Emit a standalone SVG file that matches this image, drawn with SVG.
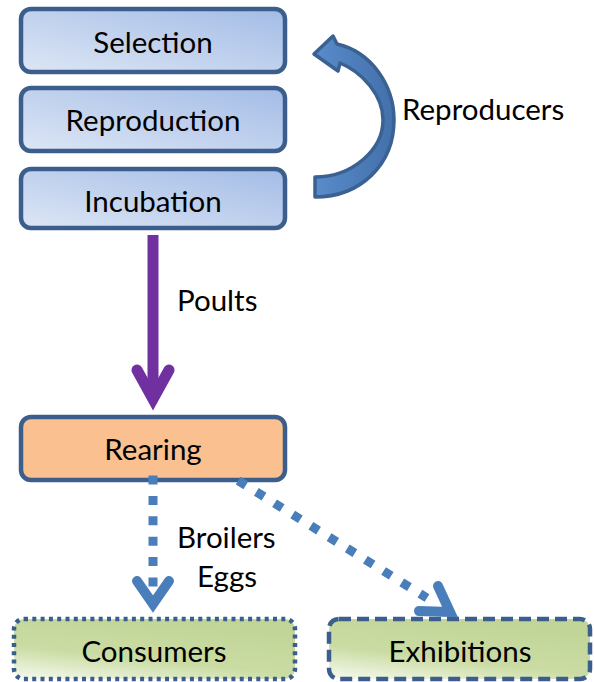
<svg xmlns="http://www.w3.org/2000/svg" width="594" height="682" viewBox="0 0 594 682">
  <defs>
    <linearGradient id="gBlue" x1="0" y1="1" x2="1" y2="0">
      <stop offset="0" stop-color="#dde6f5"/>
      <stop offset="1" stop-color="#a3bce6"/>
    </linearGradient>
    <linearGradient id="gGreen" x1="0" y1="1" x2="0.5" y2="0">
      <stop offset="0" stop-color="#f7faf0"/>
      <stop offset="0.45" stop-color="#cadca3"/>
      <stop offset="1" stop-color="#c2d598"/>
    </linearGradient>
    <linearGradient id="gCurve" x1="0" y1="0" x2="1" y2="0">
      <stop offset="0" stop-color="#5a8ccb"/>
      <stop offset="1" stop-color="#4270aa"/>
    </linearGradient>
  </defs>
  <style>
    text { font-family: Lato, "Liberation Sans", sans-serif; font-size: 29.5px; fill: #000; }
    .c { text-anchor: middle; }
    .box { stroke: #3b5e8c; stroke-width: 4.5; }
    .stage { fill: url(#gBlue); }
    .sink { fill: url(#gGreen); }
    .dotline { fill: none; stroke: #4a7ebb; stroke-width: 9; stroke-linecap: butt; }
    .head { fill: none; stroke-linecap: round; stroke-linejoin: miter; }
  </style>

  <!-- breeding stages -->
  <g id="selection">
    <rect class="box stage" x="21" y="9" width="264" height="63" rx="10"/>
    <text class="c" x="153" y="53">Selection</text>
  </g>
  <g id="reproduction">
    <rect class="box stage" x="21" y="88" width="264" height="63" rx="10"/>
    <text class="c" x="153" y="131">Reproduction</text>
  </g>
  <g id="incubation">
    <rect class="box stage" x="21" y="169" width="264" height="59" rx="10"/>
    <text class="c" x="153" y="212">Incubation</text>
  </g>
  <g id="rearing">
    <rect class="box" fill="#fac090" x="21" y="417" width="264" height="63" rx="10"/>
    <text class="c" x="153" y="460">Rearing</text>
  </g>

  <!-- outlets -->
  <g id="consumers">
    <rect class="box sink" x="14" y="619" width="281" height="60" rx="10" stroke-dasharray="4 4.3"/>
    <text class="c" x="154" y="662">Consumers</text>
  </g>
  <g id="exhibitions">
    <rect class="box sink" x="329" y="619" width="261" height="60" rx="10" stroke-dasharray="12 6"/>
    <text class="c" x="460" y="662">Exhibitions</text>
  </g>

  <g id="connectors">
    <!-- reproducers loop back to selection -->
    <path d="M315,197 C360,197 394,165 394,120 C394,86 372,52 337,44 L333,36 L314,54 L338,71 L340,63 C362,72 383,95 383,120 C383,150 352,177 315,177 Z"
          fill="url(#gCurve)" stroke="#3a6191" stroke-width="3.5" stroke-linejoin="round"/>
    <text x="402" y="120">Reproducers</text>

    <!-- poults: incubation to rearing -->
    <path d="M153,235 V396" stroke="#7030a0" stroke-width="11" fill="none"/>
    <path class="head" d="M137,370 L153,399 L169,370" stroke="#7030a0" stroke-width="11"/>
    <text x="177" y="311">Poults</text>

    <!-- broilers and eggs: rearing to consumers -->
    <path class="dotline" d="M153,475.5 V587" stroke-dasharray="9 11.4"/>
    <path class="head" d="M137,581 L153,604 L169,581" stroke="#4a7ebb" stroke-width="10"/>
    <text x="177" y="548">Broilers</text>
    <text x="197" y="587">Eggs</text>

    <!-- rearing to exhibitions -->
    <path class="dotline" d="M238.2,480.6 L427,598" stroke-dasharray="9 12.4"/>
    <path class="head" d="M438,586 L450,612 L419,611" stroke="#4a7ebb" stroke-width="10"/>
  </g>
</svg>
